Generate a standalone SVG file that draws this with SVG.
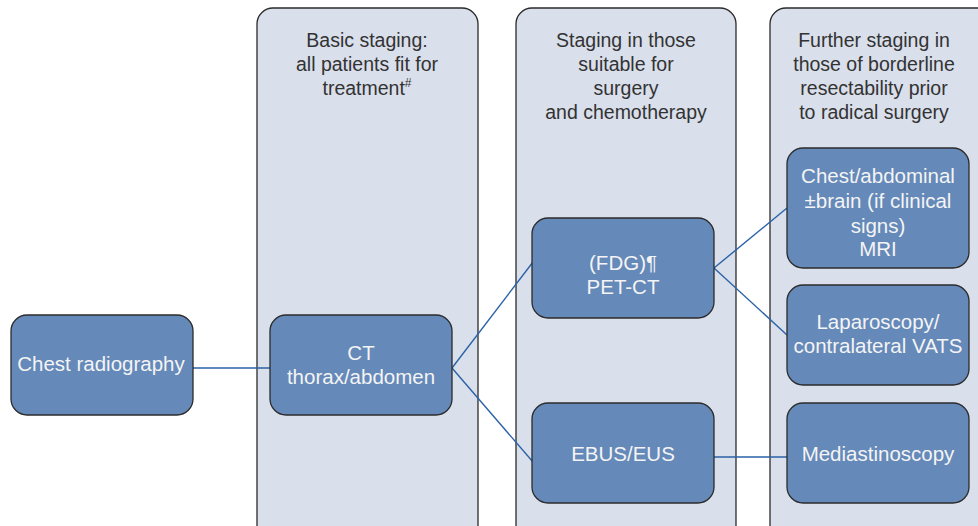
<svg xmlns="http://www.w3.org/2000/svg" width="978" height="526" viewBox="0 0 978 526">
<style>
.panel{fill:#d9dfeb;stroke:#2b2b2b;stroke-width:1.3}
.node{fill:#6589b9;stroke:#2b2b2b;stroke-width:1.3}
.ht{font-family:"Liberation Sans",Arial,sans-serif;font-size:19.5px;fill:#333;text-anchor:middle}
.nt{font-family:"Liberation Sans",Arial,sans-serif;font-size:20.5px;fill:#f4f4f4;text-anchor:middle}
.conn{stroke:#2a62a6;stroke-width:1.4;fill:none}
</style>
<rect width="978" height="526" fill="#fff"/>
<g id="col1">
<rect class="panel" x="257" y="8" width="221" height="540" rx="16"/>
<text class="ht" x="367" y="47">Basic staging:</text>
<text class="ht" x="367" y="71">all patients fit for</text>
<text class="ht" x="367" y="95">treatment<tspan font-size="12" dy="-8">#</tspan></text>
</g>
<g id="col2">
<rect class="panel" x="516" y="8" width="220" height="540" rx="16"/>
<text class="ht" x="626" y="47">Staging in those</text>
<text class="ht" x="626" y="71">suitable for</text>
<text class="ht" x="626" y="95">surgery</text>
<text class="ht" x="626" y="119">and chemotherapy</text>
</g>
<g id="col3">
<rect class="panel" x="770" y="8" width="240" height="540" rx="16"/>
<text class="ht" x="874" y="47">Further staging in</text>
<text class="ht" x="874" y="71">those of borderline</text>
<text class="ht" x="874" y="95">resectability prior</text>
<text class="ht" x="874" y="119">to radical surgery</text>
</g>
<g id="connectors">
<line class="conn" x1="193" y1="368" x2="270" y2="368"/>
<line class="conn" x1="452" y1="368" x2="533" y2="262"/>
<line class="conn" x1="452" y1="368" x2="533" y2="462"/>
<line class="conn" x1="714" y1="268" x2="787" y2="208"/>
<line class="conn" x1="714" y1="268" x2="787" y2="335"/>
<line class="conn" x1="714" y1="457" x2="787" y2="457"/>
</g>
<g id="chest">
<rect class="node" x="11" y="315" width="182" height="100" rx="16"/>
<text class="nt" x="101" y="371">Chest radiography</text>
</g>
<g id="ct">
<rect class="node" x="270" y="315" width="182" height="100" rx="16"/>
<text class="nt" x="361" y="360">CT</text>
<text class="nt" x="361" y="384">thorax/abdomen</text>
</g>
<g id="pet">
<rect class="node" x="532" y="218" width="182" height="100" rx="16"/>
<text class="nt" x="623" y="270">(FDG)¶</text>
<text class="nt" x="623" y="294">PET-CT</text>
</g>
<g id="ebus">
<rect class="node" x="532" y="403" width="182" height="100" rx="16"/>
<text class="nt" x="623" y="461">EBUS/EUS</text>
</g>
<g id="mri">
<rect class="node" x="787" y="148" width="182" height="120" rx="16"/>
<text class="nt" x="878" y="183">Chest/abdominal</text>
<text class="nt" x="878" y="208">±brain (if clinical</text>
<text class="nt" x="878" y="233">signs)</text>
<text class="nt" x="878" y="256">MRI</text>
</g>
<g id="lap">
<rect class="node" x="787" y="285" width="182" height="100" rx="16"/>
<text class="nt" x="878" y="329">Laparoscopy/</text>
<text class="nt" x="878" y="353">contralateral VATS</text>
</g>
<g id="med">
<rect class="node" x="787" y="403" width="182" height="100" rx="16"/>
<text class="nt" x="878" y="461">Mediastinoscopy</text>
</g>
</svg>
